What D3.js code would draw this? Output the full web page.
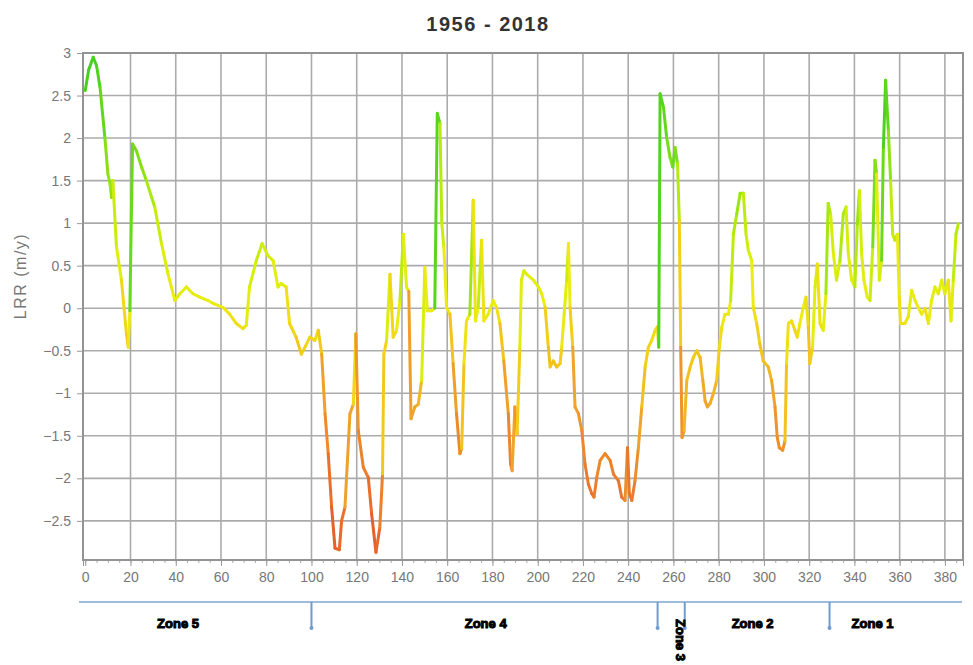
<!DOCTYPE html>
<html>
<head>
<meta charset="utf-8">
<script src="https://cdn.jsdelivr.net/npm/d3@7"></script>
<style>
  html, body { margin: 0; padding: 0; background: #fff; }
  svg { display: block; font-family: "Liberation Sans", Arial, sans-serif; }
</style>
</head>
<body>
<svg id="chart" width="973" height="665"></svg>
<script>
// Transect number along the shoreline
const transect = [
  0, 1.5, 3.5, 5, 6.5, 8.7, 10, 11, 11.6, 12.2, 13.8, 16, 18.2, 19, 19.7, 20.9, 22.6, 25, 27, 30.7,
  33.7, 36.6, 39.6, 41.8, 44.7, 47.6, 50.6, 54.3, 57, 60.9, 63.8, 66.8, 69.7, 71.2, 72.6, 75.6, 78.2, 80.7, 83, 85.2,
  86.6, 88.8, 90.3, 93.2, 95.5, 97.1, 99.3, 101.5, 103, 104.5, 106, 107.4, 108.9, 110.4, 112.3, 113.3, 114.8, 117, 118.5, 119.6,
  120.7, 122.9, 125.1, 126.6, 128.5, 130.2, 131.4, 132, 133.2, 134.7, 136.1, 137.6, 139.1, 140.6, 142, 143, 144, 145.7, 147.2, 148.7,
  150.1, 151.2, 153.1, 154.5, 155.6, 156.8, 157.6, 158.5, 159.7, 161.2, 162.6, 164.1, 165.6, 166.4, 167.4, 168.5, 170, 171.5, 172.5, 173.7,
  175.2, 176.2, 178.1, 180.3, 181.8, 183.3, 185, 187, 188, 188.7, 189.9, 190.9, 192.1, 192.8, 193.9, 195.1, 198.1, 200.3, 201.8, 203.3,
  204.7, 205.5, 206.9, 208.4, 209.9, 210.6, 211.7, 212.8, 213.6, 214.3, 215.5, 216.5, 218, 219.5, 220.9, 222.4, 223.9, 224.9, 226.1, 227.6,
  229.8, 232, 233.5, 235.7, 237.1, 238.6, 239.7, 240.5, 241.6, 243, 244.5, 246, 247.5, 248.9, 250.4, 251.9, 252.9, 253.5, 254.1, 255.6,
  257, 258.5, 259.7, 260.7, 261.8, 262.6, 263.2, 263.8, 264.7, 265.9, 267.4, 268.8, 270.3, 271.8, 273, 274, 275, 276.2, 277.7, 279.1,
  280.3, 281.4, 282.8, 284.3, 285.3, 286.5, 288, 289.5, 290.9, 292.1, 293.1, 294.6, 295.3, 296.8, 298.2, 299.7, 301.9, 303.4, 304.9, 305.9,
  306.8, 308.3, 309.3, 310, 310.8, 312.2, 313.7, 314.7, 315.9, 317.4, 318.6, 319.6, 320.3, 321.5, 322.6, 323.6, 324.8, 326.2, 327.4, 328.4,
  329.5, 330.7, 332.1, 333.6, 335.1, 336.3, 337.3, 338.8, 340.2, 341.3, 342.2, 343.2, 344.2, 345.7, 346.9, 348.1, 349.1, 349.8, 351, 352,
  352.8, 353.8, 355, 356, 356.9, 357.9, 359, 359.8, 360.4, 362.3, 363.8, 365.3, 366.8, 368.2, 369.7, 371.2, 372.7, 374.1, 375.6, 377.1,
  378.6, 380, 381.5, 382.7, 383.7, 384.9, 385.9
];

// Linear regression rate (m/y) at each transect
const lrr = [
  2.56, 2.8, 2.95, 2.85, 2.6, 2.0, 1.58, 1.45, 1.3, 1.5, 0.72, 0.33, -0.3, -0.46, -0.03, 1.93, 1.85, 1.65, 1.5, 1.19,
  0.76, 0.4, 0.09, 0.17, 0.25, 0.17, 0.13, 0.09, 0.05, 0.01, -0.07, -0.18, -0.24, -0.2, 0.25, 0.56, 0.76, 0.62, 0.56, 0.25,
  0.29, 0.25, -0.18, -0.34, -0.54, -0.46, -0.34, -0.38, -0.26, -0.54, -1.24, -1.71, -2.34, -2.82, -2.84, -2.5, -2.34, -1.24, -1.13, -0.3,
  -1.44, -1.87, -1.99, -2.42, -2.87, -2.58, -1.95, -0.54, -0.38, 0.4, -0.34, -0.26, 0.09, 0.87, 0.25, 0.2, -1.3, -1.16, -1.13, -0.85,
  0.48, -0.03, -0.03, 0.0, 2.29, 2.17, 1.0, 0.72, 0.01, -0.07, -0.65, -1.24, -1.71, -1.65, -0.65, -0.15, -0.07, 1.27, -0.15, 0.01,
  0.8, -0.15, -0.07, 0.09, 0.01, -0.18, -0.62, -1.24, -1.83, -1.91, -1.16, -1.48, -0.46, 0.33, 0.44, 0.4, 0.33, 0.25, 0.17, 0.01,
  -0.46, -0.69, -0.62, -0.69, -0.65, -0.46, -0.07, 0.33, 0.76, 0.01, -0.46, -1.16, -1.24, -1.44, -1.83, -2.07, -2.18, -2.22, -1.99, -1.79,
  -1.71, -1.79, -1.95, -2.03, -2.22, -2.26, -1.64, -2.18, -2.26, -2.03, -1.64, -1.16, -0.69, -0.46, -0.38, -0.26, -0.22, -0.46, 2.52, 2.36,
  2.01, 1.77, 1.66, 1.89, 1.7, 1.03, -0.46, -1.52, -1.44, -0.85, -0.69, -0.58, -0.5, -0.58, -0.85, -1.09, -1.16, -1.12, -1.0, -0.85,
  -0.46, -0.22, -0.07, -0.07, 0.09, 0.87, 1.11, 1.35, 1.35, 0.87, 0.68, 0.56, 0.01, -0.18, -0.42, -0.62, -0.69, -0.85, -1.16, -1.52,
  -1.64, -1.67, -1.56, -0.65, -0.18, -0.15, -0.26, -0.34, -0.18, 0.01, 0.13, -0.22, -0.65, -0.46, 0.25, 0.52, -0.18, -0.26, 0.17, 1.23,
  1.1, 0.64, 0.33, 0.56, 1.11, 1.19, 0.64, 0.33, 0.25, 0.99, 1.38, 0.64, 0.33, 0.13, 0.09, 0.72, 1.74, 1.58, 0.33, 0.56,
  1.89, 2.68, 2.09, 1.5, 0.87, 0.8, 0.87, 0.13, -0.18, -0.18, -0.1, 0.21, 0.09, 0.01, -0.07, 0.0, -0.18, 0.09, 0.25, 0.17,
  0.33, 0.17, 0.33, -0.15, 0.33, 0.87, 0.99
];

const xTicks = d3.range(0, 381, 20);
const yTicks = [3, 2.5, 2, 1.5, 1, 0.5, 0, -0.5, -1, -1.5, -2, -2.5];

// Shoreline zones and the transects separating them
const zoneNames = ["Zone 5", "Zone 4", "Zone 3", "Zone 2", "Zone 1"];
const zoneLabelAt = [41, 177, 261, 295, 348];
const zoneBreaks = [100, 253, 265, 329];

const chartTitle = "1956 - 2018";
const yTitle = "LRR (m/y)";

const svg = d3.select("#chart");
const plotL = 83, plotR = 963, plotT = 53, plotB = 560;

const x = d3.scaleLinear().domain([-1, 388]).range([plotL, plotR]);
const y = d3.scaleLinear().domain([-2.96, 3]).range([plotB, plotT]);

// Colour of a segment follows the rate reached at its end point
const color = d3.scaleLinear()
  .domain([-2.8, -2.0, -1.2, -0.5, 0, 0.6, 1.2, 2.0, 2.8])
  .range(["#e5602a", "#ec7e2c", "#f0a22a", "#f2cb1a", "#ecec12", "#d4ee0c", "#a8e810", "#62d81c", "#48d020"])
  .clamp(true);

// Gridlines
svg.append("g").selectAll("line").data(xTicks.slice(1)).join("line")
  .attr("x1", d => x(d)).attr("x2", d => x(d))
  .attr("y1", plotT).attr("y2", plotB)
  .attr("stroke", "#ababab").attr("stroke-width", 1.6);
svg.append("g").selectAll("line").data(yTicks.slice(1)).join("line")
  .attr("x1", plotL).attr("x2", plotR)
  .attr("y1", d => y(d)).attr("y2", d => y(d))
  .attr("stroke", "#ababab").attr("stroke-width", 1.6);

// Plot frame
svg.append("rect")
  .attr("x", plotL).attr("y", plotT)
  .attr("width", plotR - plotL).attr("height", plotB - plotT)
  .attr("fill", "none").attr("stroke", "#939393").attr("stroke-width", 2);

// Y axis
const yAxis = svg.append("g").attr("transform", `translate(${plotL},0)`)
  .call(d3.axisLeft(y).tickValues(yTicks).tickSize(6).tickPadding(6).tickFormat(d3.format("")));
yAxis.select(".domain").remove();
yAxis.selectAll("line").attr("stroke", "#999");
yAxis.selectAll("text").attr("fill", "#777").attr("font-size", 14)
  .attr("font-family", "Liberation Sans, Arial, sans-serif");

// X axis with minor ticks
const xAxisMinor = svg.append("g").attr("transform", `translate(0,${plotB})`)
  .call(d3.axisBottom(x).tickValues(d3.range(0, 388, 5)).tickSize(3).tickFormat(""));
xAxisMinor.select(".domain").remove();
xAxisMinor.selectAll("line").attr("stroke", "#aaa");
const xAxis = svg.append("g").attr("transform", `translate(0,${plotB})`)
  .call(d3.axisBottom(x).tickValues(xTicks).tickSize(6).tickPadding(6));
xAxis.select(".domain").attr("stroke", "#939393");
xAxis.selectAll("line").attr("stroke", "#999");
xAxis.selectAll("text").attr("fill", "#777").attr("font-size", 14)
  .attr("font-family", "Liberation Sans, Arial, sans-serif");

// Rate line, drawn segment by segment
const pts = transect.map((t, i) => ({ t, v: lrr[i] }));
const segs = pts.slice(1).map((p, i) => ({ a: pts[i], b: p }));
svg.append("g").selectAll("line").data(segs).join("line")
  .attr("x1", d => x(d.a.t)).attr("y1", d => y(d.a.v))
  .attr("x2", d => x(d.b.t)).attr("y2", d => y(d.b.v))
  .attr("stroke", d => color(d.b.v))
  .attr("stroke-width", 3)
  .attr("stroke-linecap", "round");

// Title and axis title
svg.append("text")
  .attr("x", 488).attr("y", 31)
  .attr("text-anchor", "middle")
  .attr("font-size", 20).attr("font-weight", "bold")
  .attr("letter-spacing", 1.5)
  .attr("fill", "#333")
  .text(chartTitle);

svg.append("text")
  .attr("transform", "translate(26,276) rotate(-90)")
  .attr("text-anchor", "middle")
  .attr("font-size", 16)
  .attr("letter-spacing", 1.5)
  .attr("fill", "#777")
  .text(yTitle);

// Zone bar
const zoneY = 602;
svg.append("line")
  .attr("x1", 79).attr("x2", 962)
  .attr("y1", zoneY).attr("y2", zoneY)
  .attr("stroke", "#7fa6d4").attr("stroke-width", 1.6);
const breaks = svg.append("g").selectAll("g").data(zoneBreaks).join("g");
breaks.append("line")
  .attr("x1", d => x(d)).attr("x2", d => x(d))
  .attr("y1", zoneY).attr("y2", zoneY + 26)
  .attr("stroke", "#6e9bd0").attr("stroke-width", 2);
breaks.append("circle")
  .attr("cx", d => x(d)).attr("cy", zoneY + 26).attr("r", 2)
  .attr("fill", "#6e9bd0");

svg.append("g").selectAll("text").data(zoneNames).join("text")
  .attr("transform", (d, i) => i === 2
    ? `translate(${x(zoneLabelAt[i])},640) rotate(90)`
    : `translate(${x(zoneLabelAt[i])},628)`)
  .attr("text-anchor", "middle")
  .attr("font-size", 13).attr("font-weight", "bold")
  .attr("fill", "#000").attr("stroke", "#000").attr("stroke-width", 1)
  .text(d => d);
</script>
</body>
</html>
